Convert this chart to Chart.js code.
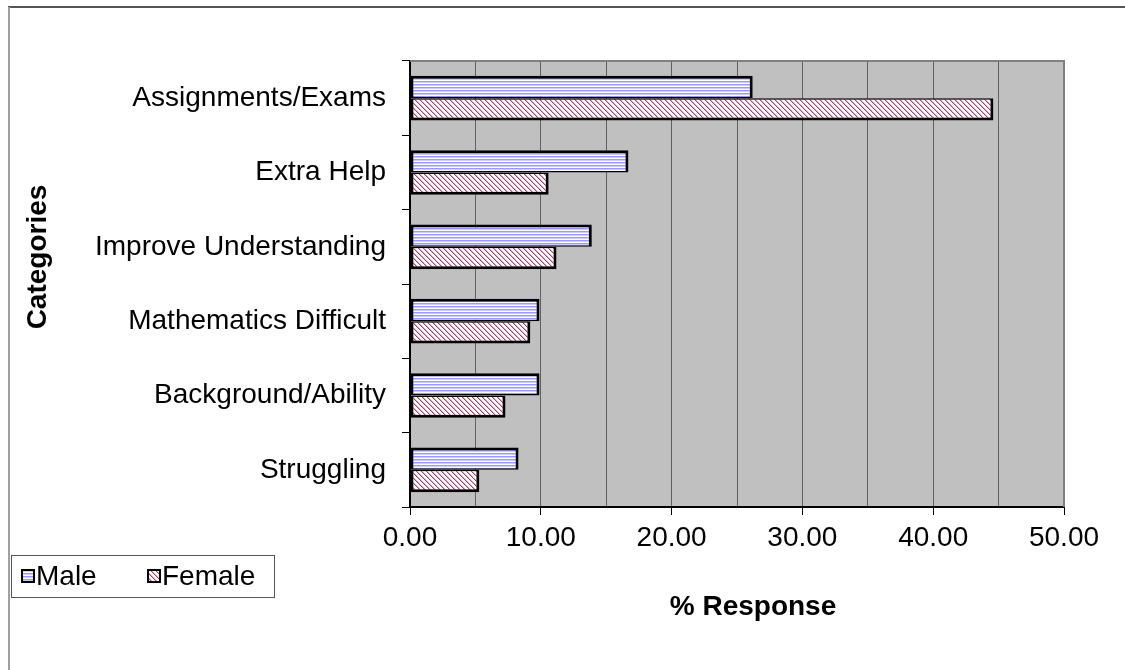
<!DOCTYPE html>
<html>
<head>
<meta charset="utf-8">
<script src="https://cdn.jsdelivr.net/npm/chart.js@4/dist/chart.umd.min.js"></script>
<style>
  html, body { margin: 0; padding: 0; background: #ffffff; }
  #wrap { position: relative; width: 1125px; height: 670px; }
</style>
</head>
<body>
<div id="wrap"><canvas id="chart" width="1125" height="670"></canvas></div>
<script>
// Survey categories and percentage responses by gender
const categories = ['Assignments/Exams', 'Extra Help', 'Improve Understanding',
                    'Mathematics Difficult', 'Background/Ability', 'Struggling'];
const maleValues   = [26.2, 16.7, 13.9, 9.9, 9.9, 8.3];
const femaleValues = [44.6, 10.6, 11.2, 9.2, 7.3, 5.3];
const seriesNames  = ['Male', 'Female'];
const xTitle = '% Response';
const yTitle = 'Categories';

const FONT = '"Liberation Sans", Arial, sans-serif';
const FS = 28;

// Horizontal-stripe fill (blue lines on white)
function stripePattern() {
  const c = document.createElement('canvas');
  c.width = 4; c.height = 3;
  const g = c.getContext('2d');
  const rows = ['#9999ff', '#ccccff', '#ffffff'];
  rows.forEach((col, i) => { g.fillStyle = col; g.fillRect(0, i, 4, 1); });
  return g.createPattern(c, 'repeat');
}
// Diagonal-hatch fill (maroon lines on white)
function hatchPattern() {
  const c = document.createElement('canvas');
  const n = 5;
  c.width = n; c.height = n;
  const g = c.getContext('2d');
  g.fillStyle = '#ffffff'; g.fillRect(0, 0, n, n);
  for (let i = 0; i < n; i++) {
    g.fillStyle = '#a04070'; g.fillRect(i, i, 1, 1);
    g.fillStyle = '#deb0c6'; g.fillRect((i + 1) % n, i, 1, 1);
  }
  return g.createPattern(c, 'repeat');
}

const maleFill = stripePattern();
const femaleFill = hatchPattern();

const decor = {
  id: 'decor',
  beforeDraw(chart) {
    const { ctx, chartArea: a } = chart;
    ctx.save();
    ctx.fillStyle = '#c0c0c0';
    ctx.fillRect(a.left, a.top, a.right - a.left, a.bottom - a.top);
    ctx.restore();
  },
  afterDraw(chart) {
    const { ctx, chartArea: a } = chart;
    ctx.save();
    // outer frame
    ctx.strokeStyle = '#555555'; ctx.lineWidth = 2;
    ctx.beginPath(); ctx.moveTo(8, 7); ctx.lineTo(1125, 7); ctx.stroke();
    ctx.strokeStyle = '#a0a0a0';
    ctx.beginPath(); ctx.moveTo(9, 7); ctx.lineTo(9, 670); ctx.stroke();
    // plot area top and right edges
    ctx.strokeStyle = '#808080'; ctx.lineWidth = 2;
    ctx.beginPath();
    ctx.moveTo(a.left, a.top); ctx.lineTo(a.right, a.top); ctx.lineTo(a.right, a.bottom);
    ctx.stroke();
    // axis titles
    ctx.fillStyle = '#000';
    ctx.font = 'bold ' + FS + 'px ' + FONT;
    ctx.textAlign = 'center'; ctx.textBaseline = 'middle';
    ctx.fillText(xTitle, (a.left + a.right) / 2 + 16, 607);
    ctx.translate(38, 257); ctx.rotate(-Math.PI / 2);
    ctx.fillText(yTitle, 0, 0);
    ctx.restore();

    // legend
    ctx.save();
    const lx = 11, ly = 555, lw = 263, lh = 42;
    ctx.fillStyle = '#fff'; ctx.fillRect(lx, ly, lw, lh);
    ctx.strokeStyle = '#555'; ctx.lineWidth = 1;
    ctx.strokeRect(lx + 0.5, ly + 0.5, lw, lh);
    ctx.font = FS + 'px ' + FONT;
    ctx.textBaseline = 'middle'; ctx.textAlign = 'left';
    const items = [[22, chart.data.datasets[0]], [148, chart.data.datasets[1]]];
    const cy = ly + lh / 2;
    items.forEach(([x, ds]) => {
      ctx.fillStyle = ds.backgroundColor;
      ctx.fillRect(x, cy - 6, 12, 12);
      ctx.strokeStyle = '#000'; ctx.lineWidth = 2;
      ctx.strokeRect(x, cy - 6, 12, 12);
      ctx.fillStyle = '#000';
      ctx.fillText(ds.label, x + 14, cy + 1);
    });
    ctx.restore();
  }
};

new Chart(document.getElementById('chart'), {
  type: 'bar',
  data: {
    labels: categories,
    datasets: [
      { label: seriesNames[0], data: maleValues, backgroundColor: maleFill,
        borderColor: '#000', borderWidth: { top: 3, left: 3, right: 3, bottom: 1.5 }, borderSkipped: false },
      { label: seriesNames[1], data: femaleValues, backgroundColor: femaleFill,
        borderColor: '#000', borderWidth: { top: 1.5, left: 3, right: 3, bottom: 3 }, borderSkipped: false }
    ]
  },
  plugins: [decor],
  options: {
    indexAxis: 'y',
    responsive: false,
    animation: false,
    categoryPercentage: 0.6,
    barPercentage: 1.0,
    layout: { padding: { left: 0, top: 61, right: 61, bottom: 0 } },
    plugins: { legend: { display: false }, tooltip: { enabled: false } },
    scales: {
      x: {
        min: 0, max: 50,
        afterFit(s) { s.height = 163; },
        ticks: {
          stepSize: 5, autoSkip: false, maxRotation: 0, padding: 6,
          color: '#000', font: { family: FONT, size: FS },
          callback: v => (v % 10 === 0 ? Number(v).toFixed(2) : '')
        },
        grid: {
          color: '#606060', lineWidth: 1, tickLength: 8,
          tickColor: c => (c.tick && c.tick.value % 10 === 0 ? '#000' : 'rgba(0,0,0,0)')
        },
        border: { color: '#000', width: 2 }
      },
      y: {
        afterFit(s) { s.width = 410; },
        ticks: { color: '#000', padding: 16, font: { family: FONT, size: FS } },
        grid: { offset: true, drawOnChartArea: false, tickLength: 8, color: '#000', lineWidth: 1 },
        border: { color: '#000', width: 2 }
      }
    }
  }
});
</script>
</body>
</html>
